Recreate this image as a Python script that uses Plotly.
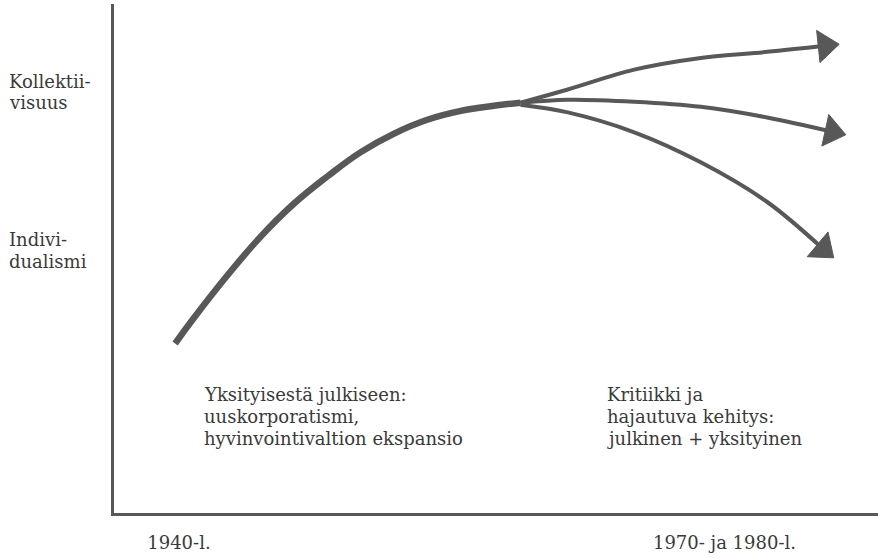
import plotly.graph_objects as go

# ---- data (conceptual units: x = time 0..100, y = collectivism level 0..100) ----
main_x = [8.0, 10.4, 14.8, 19.2, 23.5, 28.0, 32.3, 36.6, 41.1, 45.4, 49.7, 53.2]
main_y = [33.3, 38.2, 46.6, 54.3, 60.7, 66.2, 70.9, 74.5, 77.3, 79.0, 80.0, 80.6]

top_x = [53.2, 59.4, 68.1, 76.8, 85.5, 93.1]
top_y = [80.6, 83.2, 87.1, 89.4, 90.6, 91.8]

mid_x = [53.2, 59.4, 68.1, 76.8, 85.5, 94.0]
mid_y = [80.6, 81.2, 80.8, 79.8, 77.7, 74.9]

low_x = [53.2, 59.4, 68.1, 76.8, 85.5, 92.8]
low_y = [80.2, 78.7, 74.8, 68.9, 61.1, 51.9]

tick_vals = [8.5, 79.9]
tick_text = ["1940-l.", "1970- ja 1980-l."]

y_labels = ["Kollektii-", "visuus", "Indivi-", "dualismi"]
block1 = ["Yksityisestä julkiseen:", "uuskorporatismi,", "hyvinvointivaltion ekspansio"]
block2 = ["Kritiikki ja", "hajautuva kehitys:", "julkinen + yksityinen"]

# ---- style ----
W, H = 878, 559
ML, MR, MT, MB = 114, 0, 4, 46
PW, PH = W - ML - MR, H - MT - MB
INK = "#585858"
TXT = "#3a3a3a"
FONT = "DejaVu Serif"
FS = 18


def px2paper_x(px):
    return (px - ML) / PW


def py2paper_y(py):
    return (MT + PH - py) / PH


fig = go.Figure()

fig.add_trace(go.Scatter(x=main_x, y=main_y, mode="lines",
                         line=dict(color=INK, width=6.5, shape="spline", smoothing=1.2),
                         hoverinfo="skip", showlegend=False))

for bx, by in [(top_x, top_y), (mid_x, mid_y), (low_x, low_y)]:
    sizes = [0] * (len(bx) - 1) + [28]
    fig.add_trace(go.Scatter(x=bx, y=by, mode="lines+markers",
                             line=dict(color=INK, width=4, shape="spline"),
                             marker=dict(symbol="triangle-up", size=sizes, color=INK,
                                         opacity=1, angleref="previous",
                                         line=dict(width=1, color=INK)),
                             hoverinfo="skip", showlegend=False))

annotations = []
for txt, py in zip(y_labels, [81, 103, 239, 261]):
    annotations.append(dict(x=px2paper_x(7), y=py2paper_y(py), xref="paper", yref="paper",
                            text=txt, showarrow=False, xanchor="left", yanchor="middle",
                            font=dict(family=FONT, size=FS, color=TXT)))
for block, px in [(block1, 202), (block2, 605)]:
    for txt, py in zip(block, [394, 416, 438]):
        annotations.append(dict(x=px2paper_x(px), y=py2paper_y(py), xref="paper", yref="paper",
                                text=txt, showarrow=False, xanchor="left", yanchor="middle",
                                font=dict(family=FONT, size=FS, color=TXT)))

fig.update_layout(
    width=W, height=H,
    margin=dict(l=ML, r=MR, t=MT, b=MB),
    paper_bgcolor="white", plot_bgcolor="white",
    annotations=annotations,
    xaxis=dict(range=[0, 100], showgrid=False, zeroline=False,
               showline=True, linewidth=3, linecolor=INK,
               tickvals=tick_vals, ticktext=tick_text, ticks="",
               ticklabelstandoff=11,
               tickfont=dict(family=FONT, size=FS, color=TXT), fixedrange=True),
    yaxis=dict(range=[0, 100], showgrid=False, zeroline=False,
               showline=True, linewidth=3, linecolor=INK,
               showticklabels=False, ticks="", fixedrange=True),
)

fig.write_html("out.html", config={"displayModeBar": False},
               post_script="document.body.style.margin='0';document.body.style.padding='0';")
